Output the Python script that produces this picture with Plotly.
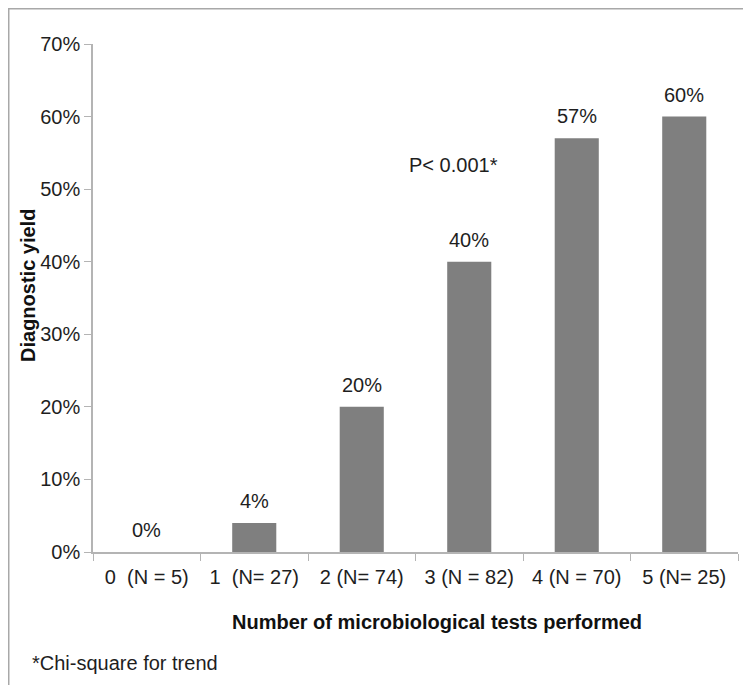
import plotly.graph_objects as go

categories = ["0\u00a0\u00a0(N = 5)", "1\u00a0\u00a0(N= 27)", "2 (N= 74)", "3 (N = 82)", "4 (N = 70)", "5 (N= 25)"]
yield_pct = [0, 4, 20, 40, 57, 60]
bar_labels = ["0%", "4%", "20%", "40%", "57%", "60%"]
y_ticks = [0, 10, 20, 30, 40, 50, 60, 70]
y_tick_labels = ["0%", "10%", "20%", "30%", "40%", "50%", "60%", "70%"]

FONT = "Liberation Sans, Arial, Helvetica, sans-serif"
AX = "#b4b4b4"
FS = 20
TXT = "#1e1e1e"

fig = go.Figure()
fig.add_trace(go.Bar(x=categories, y=yield_pct, marker=dict(color="#7f7f7f", line=dict(width=0)),
                     width=0.41, hoverinfo="skip"))
for c, v, t in zip(categories, yield_pct, bar_labels):
    fig.add_annotation(x=c, y=v, text=t, showarrow=False, yanchor="bottom", yshift=9,
                       font=dict(size=FS, color=TXT, family=FONT))

fig.add_annotation(x=2.85, y=53.3, text="P< 0.001*", showarrow=False,
                   font=dict(size=FS, color=TXT, family=FONT))
fig.add_annotation(xref="paper", yref="paper", x=-0.0977, y=-0.2185, xanchor="left", yanchor="middle",
                   text="*Chi-square for trend", showarrow=False,
                   font=dict(size=FS, color=TXT, family=FONT))
# axis titles
fig.add_annotation(xref="paper", yref="paper", x=0.533, y=-0.1378, xanchor="center", yanchor="middle",
                   text="<b>Number of microbiological tests performed</b>", showarrow=False,
                   font=dict(size=FS, color="#111", family=FONT))
fig.add_annotation(xref="paper", yref="paper", x=-0.1008, y=0.5256, xanchor="center", yanchor="middle",
                   text="<b>Diagnostic yield</b>", showarrow=False, textangle=-90,
                   font=dict(size=FS, color="#111", family=FONT))

# frame lines (top and left)
fig.add_shape(type="line", xref="paper", yref="paper", x0=-0.1318, x1=1.05, y0=1.0709, y1=1.0709,
              line=dict(color="#a8a8a8", width=3))
fig.add_shape(type="line", xref="paper", yref="paper", x0=-0.1318, x1=-0.1318, y0=1.0709, y1=-0.3,
              line=dict(color="#a8a8a8", width=3))

fig.update_layout(
    width=751, height=685,
    margin=dict(l=85, r=21, t=36, b=141),
    paper_bgcolor="white", plot_bgcolor="white",
    showlegend=False,
    font=dict(family=FONT, size=FS, color=TXT),
)
fig.update_xaxes(
    type="category", showline=True, linecolor=AX, linewidth=1.5,
    ticks="outside", tickcolor=AX, ticklen=7, tickson="boundaries",
    tickfont=dict(size=FS, color=TXT, family=FONT), ticklabelstandoff=6,
    showgrid=False, range=[-0.5, 5.5],
)
fig.update_yaxes(
    range=[0, 70], tickvals=y_ticks, ticktext=y_tick_labels,
    showline=True, linecolor=AX, linewidth=1.5,
    ticks="outside", tickcolor=AX, ticklen=7,
    tickfont=dict(size=FS, color=TXT, family=FONT),
    showgrid=False, zeroline=False,
)

fig.write_html("out.html")
